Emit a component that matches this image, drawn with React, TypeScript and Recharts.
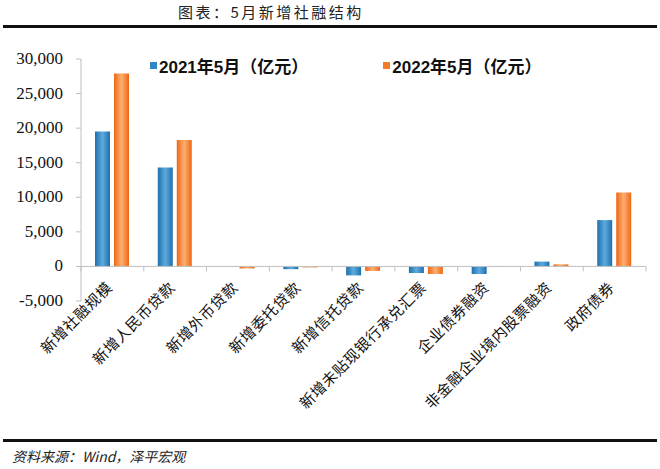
import { BarChart, Bar, XAxis, YAxis, ReferenceLine } from "recharts";

const categories = [
  "新增社融规模",
  "新增人民币贷款",
  "新增外币贷款",
  "新增委托贷款",
  "新增信托贷款",
  "新增未贴现银行承兑汇票",
  "企业债券融资",
  "非金融企业境内股票融资",
  "政府债券",
];
const may2021 = [19500, 14300, 0, -400, -1300, -950, -1100, 700, 6700];
const may2022 = [27900, 18300, -300, -150, -650, -1100, 20, 300, 10700];
const yTicks = [-5000, 0, 5000, 10000, 15000, 20000, 25000, 30000];
const seriesNames = ["2021年5月（亿元）", "2022年5月（亿元）"];
const seriesColors = ["#2F86C3", "#F47B2A"];

const data = categories.map((name, i) => ({
  name,
  a: may2021[i],
  b: may2022[i],
}));

// layout
const W = 660;
const H = 400;
const M_TOP = 19;
const X_H = 139;
const Y_W = 81;
const M_RIGHT = 14;
const PLOT_H = H - M_TOP - X_H;
const PLOT_W = W - Y_W - M_RIGHT;
const BAND = PLOT_W / categories.length;
const ZERO_Y = M_TOP + (PLOT_H * 30000) / 35000;

const cjk = '"Noto Sans CJK SC", sans-serif';
const serif = "Times New Roman, Liberation Serif, DejaVu Serif, serif";

function XTick(props: any) {
  const { x, payload, index } = props;
  const last = index === categories.length - 1;
  const ax = x + 1;
  const ay = ZERO_Y + 22;
  return (
    <g>
      <line x1={x - BAND / 2} x2={x - BAND / 2} y1={ZERO_Y} y2={ZERO_Y + 5} stroke="#BFBFBF" />
      {last && <line x1={x + BAND / 2} x2={x + BAND / 2} y1={ZERO_Y} y2={ZERO_Y + 5} stroke="#BFBFBF" />}
      <text
        x={ax}
        y={ay}
        transform={`rotate(-45, ${ax}, ${ay})`}
        textAnchor="end"
        fill="#111"
        style={{ fontFamily: cjk, fontSize: 15, letterSpacing: 0.6 }}
      >
        {payload.value}
      </text>
    </g>
  );
}

function YTick(props: any) {
  const { x, y, payload } = props;
  return (
    <text x={x} y={y} dy={5} textAnchor="end" fill="#111" fontFamily={serif} fontSize={17}>
      {Number(payload.value).toLocaleString("en-US")}
    </text>
  );
}

export default function App() {
  return (
    <div style={{ position: "absolute", left: 0, top: 0, width: 660, height: 469, background: "#fff", overflow: "hidden" }}>
      <div style={{ position: "absolute", left: 178, top: 1, fontFamily: cjk, fontSize: 15, letterSpacing: 2.5, color: "#222" }}>
        图表：5月新增社融结构
      </div>
      <div style={{ position: "absolute", left: 3, top: 25, width: 654, height: 3, background: "#111" }} />
      <div style={{ position: "absolute", left: 0, top: 40, fontFamily: serif }}>
        <BarChart
          width={W}
          height={H}
          data={data}
          margin={{ top: M_TOP, right: M_RIGHT, left: 0, bottom: 0 }}
          barSize={15}
          barGap={4}
        >
          <defs>
            <linearGradient id="gBlue" x1="0" y1="0" x2="1" y2="0">
              <stop offset="0%" stopColor="#1E6FAE" />
              <stop offset="50%" stopColor="#5DABDD" />
              <stop offset="100%" stopColor="#1E6FAE" />
            </linearGradient>
            <linearGradient id="gOrange" x1="0" y1="0" x2="1" y2="0">
              <stop offset="0%" stopColor="#EE6714" />
              <stop offset="50%" stopColor="#FDAE72" />
              <stop offset="100%" stopColor="#EE6714" />
            </linearGradient>
          </defs>
          <XAxis
            dataKey="name"
            height={X_H}
            interval={0}
            axisLine={false}
            tickLine={false}
            tickSize={0}
            tick={<XTick />}
          />
          <YAxis
            width={Y_W}
            domain={[-5000, 30000]}
            ticks={yTicks}
            interval={0}
            axisLine={{ stroke: "#BFBFBF" }}
            tickLine={{ stroke: "#BFBFBF" }}
            tickSize={5}
            tickMargin={13}
            tick={<YTick />}
          />
          <ReferenceLine y={0} stroke="#BFBFBF" />
          <Bar dataKey="a" name={seriesNames[0]} fill="url(#gBlue)" isAnimationActive={false} />
          <Bar dataKey="b" name={seriesNames[1]} fill="url(#gOrange)" isAnimationActive={false} />
        </BarChart>
      </div>
      <div
        style={{
          position: "absolute",
          left: 150,
          top: 53,
          display: "flex",
          fontFamily: '"Liberation Sans", "Noto Sans CJK SC", sans-serif',
          fontWeight: 700,
          fontSize: 17,
          color: "#111",
        }}
      >
        {seriesNames.map((n, i) => (
          <div key={n} style={{ display: "flex", alignItems: "center", marginRight: i === 0 ? 75 : 0 }}>
            <span style={{ width: 7, height: 7, background: seriesColors[i], marginRight: 2, display: "inline-block" }} />
            <span>{n}</span>
          </div>
        ))}
      </div>
      <div style={{ position: "absolute", left: 3, top: 439, width: 654, height: 3, background: "#111" }} />
      <div style={{ position: "absolute", left: 12, top: 446, fontFamily: cjk, fontStyle: "italic", fontSize: 14, color: "#222" }}>
        资料来源：Wind，泽平宏观
      </div>
    </div>
  );
}
